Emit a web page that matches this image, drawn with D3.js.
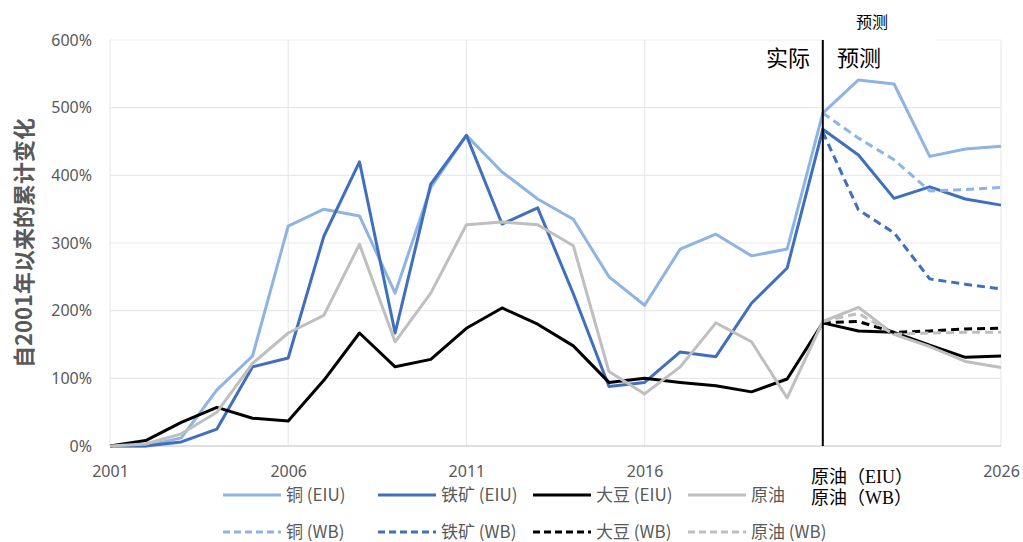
<!DOCTYPE html>
<html>
<head>
<meta charset="utf-8">
<script src="https://cdn.jsdelivr.net/npm/d3@7"></script>
<style>
  html, body { margin: 0; padding: 0; background: #ffffff; }
  svg { display: block; }
  text { font-family: "Noto Sans CJK SC", "Noto Sans", sans-serif; }
</style>
</head>
<body>
<svg id="chart" width="1023" height="542"></svg>
<script>
// Years on the x axis
const years = [2001, 2002, 2003, 2004, 2005, 2006, 2007, 2008, 2009, 2010,
               2011, 2012, 2013, 2014, 2015, 2016, 2017, 2018, 2019, 2020,
               2021, 2022, 2023, 2024, 2025, 2026];
// Forecast years (World Bank series)
const wbYears = [2021, 2022, 2023, 2024, 2025, 2026];

// Cumulative change since 2001, in percent
const copperEIU = [0, 0, 12, 83, 133, 325, 350, 340, 226, 382, 459, 405, 365, 335, 250, 208, 291, 313, 281, 291, 492, 541, 535, 428, 439, 443];
const ironEIU   = [0, 0, 6, 25, 117, 130, 310, 420, 167, 387, 459, 328, 352, 225, 88, 94, 139, 132, 211, 263, 468, 430, 366, 383, 365, 356];
const soyEIU    = [0, 8, 35, 57, 41, 37, 97, 167, 117, 128, 174, 204, 180, 148, 94, 100, 94, 89, 80, 99, 182, 170, 168, 149, 131, 133];
const oilEIU    = [0, 3, 18, 50, 122, 167, 193, 298, 154, 226, 327, 331, 327, 296, 110, 77, 117, 182, 154, 71, 184, 205, 165, 147, 125, 116];

const copperWB = [492, 455, 423, 377, 379, 382];
const ironWB   = [464, 349, 315, 247, 239, 232];
const soyWB    = [182, 184, 168, 170, 173, 174];
const oilWB    = [184, 196, 165, 167, 168, 168];

// Axis ticks: gridlines every five years; the 2021 slot carries the crude-oil labels instead
const xGrid = [2001, 2006, 2011, 2016, 2021, 2026];
const xTickLabels = [2001, 2006, 2011, 2016, 2026];
const yTicks = [0, 100, 200, 300, 400, 500, 600];

// Series definitions (legend order)
const series = [
  { name: "铜 (EIU)",   x: years,   y: copperEIU, color: "#8eb4e3", dash: null, row: 0, col: 0 },
  { name: "铁矿 (EIU)", x: years,   y: ironEIU,   color: "#3f6fbd", dash: null, row: 0, col: 1 },
  { name: "大豆 (EIU)", x: years,   y: soyEIU,    color: "#000000", dash: null, row: 0, col: 2 },
  { name: "原油",       x: years,   y: oilEIU,    color: "#bfbfbf", dash: null, row: 0, col: 3 },
  { name: "铜 (WB)",    x: wbYears, y: copperWB,  color: "#8eb4e3", dash: "8,5", row: 1, col: 0 },
  { name: "铁矿 (WB)",  x: wbYears, y: ironWB,    color: "#3f6fbd", dash: "8,5", row: 1, col: 1 },
  { name: "大豆 (WB)",  x: wbYears, y: soyWB,     color: "#000000", dash: "8,5", row: 1, col: 2 },
  { name: "原油 (WB)",  x: wbYears, y: oilWB,     color: "#bfbfbf", dash: "8,5", row: 1, col: 3 }
];

const svg = d3.select("#chart");
const plotLeft = 110, plotRight = 1001, plotTop = 40, plotBottom = 446;

const x = d3.scaleLinear().domain([2001, 2026]).range([plotLeft, plotRight]);
const y = d3.scaleLinear().domain([0, 600]).range([plotBottom, plotTop]);

// Gridlines
const grid = svg.append("g");
grid.selectAll("line.h").data(yTicks.filter(d => d > 0)).join("line")
  .attr("class", "h")
  .attr("x1", plotLeft).attr("x2", plotRight)
  .attr("y1", d => y(d)).attr("y2", d => y(d))
  .attr("stroke", "#e9e9e9").attr("stroke-width", 1.2);
grid.selectAll("line.v").data(xGrid).join("line")
  .attr("class", "v")
  .attr("x1", d => x(d)).attr("x2", d => x(d))
  .attr("y1", plotTop).attr("y2", plotBottom)
  .attr("stroke", "#e9e9e9").attr("stroke-width", 1.2);

// Baseline
svg.append("line")
  .attr("x1", plotLeft).attr("x2", plotRight)
  .attr("y1", plotBottom).attr("y2", plotBottom)
  .attr("stroke", "#d4d4d4").attr("stroke-width", 1.5);

// Y axis labels
const yAxis = d3.axisLeft(y).tickValues(yTicks).tickFormat(d => d + "%").tickSize(0).tickPadding(0);
const gy = svg.append("g").attr("transform", `translate(${plotLeft - 18},0)`).call(yAxis);
gy.select(".domain").remove();
gy.selectAll("text").attr("font-size", 16).attr("fill", "#595959")
  .style("font-family", "'Noto Sans', sans-serif");

// X axis labels
const xAxis = d3.axisBottom(x).tickValues(xTickLabels).tickFormat(d3.format("d")).tickSize(0).tickPadding(0);
const gx = svg.append("g").attr("transform", `translate(0,${plotBottom + 20})`).call(xAxis);
gx.select(".domain").remove();
gx.selectAll("text").attr("font-size", 16).attr("fill", "#595959")
  .style("font-family", "'Noto Sans', sans-serif");

// Y axis title
svg.append("text")
  .attr("transform", `translate(32,${(plotTop + plotBottom) / 2}) rotate(-90)`)
  .attr("text-anchor", "middle")
  .attr("font-size", 22).attr("font-weight", "bold").attr("fill", "#595959")
  .text("自2001年以来的累计变化");

// Series lines
const line = d3.line().x(d => x(d[0])).y(d => y(d[1]));
svg.append("g").selectAll("path").data(series).join("path")
  .attr("d", s => line(s.x.map((yr, i) => [yr, s.y[i]])))
  .attr("fill", "none")
  .attr("stroke", s => s.color)
  .attr("stroke-width", 3)
  .attr("stroke-linejoin", "round")
  .attr("stroke-dasharray", s => s.dash);

// Actual / forecast divider
svg.append("line")
  .attr("x1", x(2021)).attr("x2", x(2021))
  .attr("y1", plotTop).attr("y2", plotBottom)
  .attr("stroke", "#000").attr("stroke-width", 2);

// Top annotations
svg.append("rect").attr("x", x(2021) + 1.5).attr("y", plotTop - 3).attr("width", 112).attr("height", 5).attr("fill", "#fff");
svg.append("text").attr("x", 788).attr("y", 66).attr("text-anchor", "middle")
  .attr("font-size", 22).attr("fill", "#000").text("实际");
svg.append("text").attr("x", 859).attr("y", 66).attr("text-anchor", "middle")
  .attr("font-size", 22).attr("fill", "#000").text("预测");
svg.append("text").attr("x", 872).attr("y", 28).attr("text-anchor", "middle")
  .attr("font-size", 16).attr("fill", "#000").text("预测");

// Legend
const colX = [223, 378, 533, 688];
const rowY = [495, 532];
const lg = svg.append("g").selectAll("g").data(series).join("g")
  .attr("transform", s => `translate(${colX[s.col]},${rowY[s.row]})`);
lg.append("line").attr("x1", 0).attr("x2", 58).attr("y1", 0).attr("y2", 0)
  .attr("stroke", s => s.color).attr("stroke-width", 3)
  .attr("stroke-dasharray", s => s.dash ? "7,4" : null);
lg.append("text").attr("x", 63).attr("y", 0).attr("dy", "0.35em")
  .attr("font-size", 17).attr("fill", "#595959").text(s => s.name);

// Crude oil labels at the forecast boundary
svg.append("g").selectAll("text").data(["原油（EIU）", "原油（WB）"]).join("text")
  .attr("x", 811).attr("y", (d, i) => 483 + i * 21)
  .attr("font-size", 18).attr("fill", "#000")
  .style("font-family", "'Liberation Serif', 'Noto Sans CJK SC', serif")
  .text(d => d);
</script>
</body>
</html>
